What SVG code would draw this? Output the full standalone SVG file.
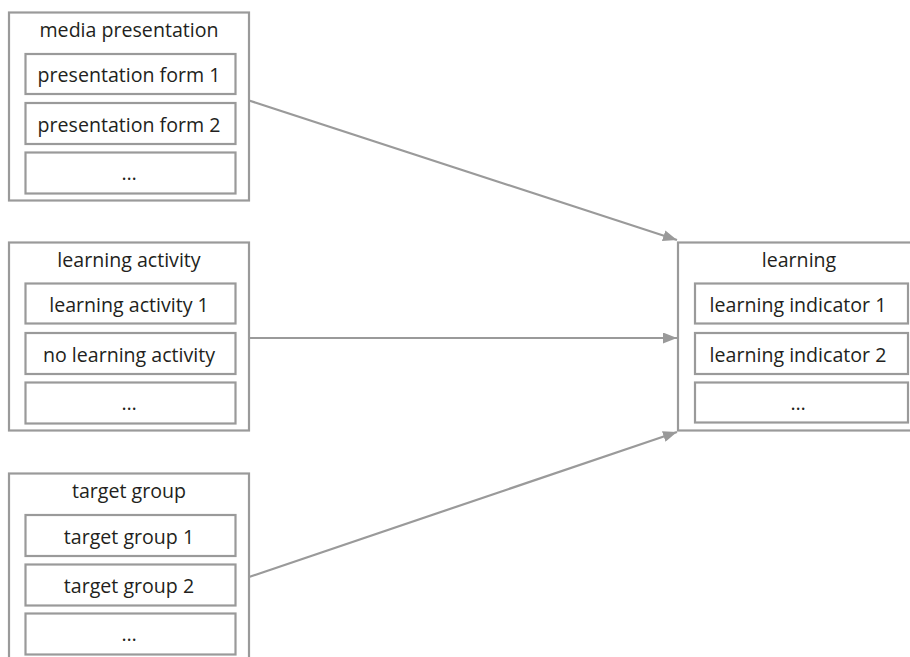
<svg xmlns="http://www.w3.org/2000/svg" width="910" height="657" viewBox="0 0 910 657">
<defs>
<style>
.o{fill:#fff;stroke:#9a9a9a;stroke-width:2.2}
.i{fill:#fff;stroke:#9a9a9a;stroke-width:2.2}
text{font-family:"Open Sans","Noto Sans",sans-serif;font-size:19.6px;fill:#231f20;text-anchor:middle}
.c{stroke:#9a9a9a;stroke-width:2.2;fill:none}
</style>
<marker id="ah" viewBox="0 0 14 11" refX="14" refY="5.5" markerWidth="14" markerHeight="11" markerUnits="userSpaceOnUse" orient="auto">
<path d="M0,0 L14,5.5 L0,11 Z" fill="#9a9a9a"/>
</marker>
</defs>
<rect width="910" height="657" fill="#fff"/>
<g id="media">
<rect class="o" x="9" y="12.5" width="240" height="188"/>
<text x="129" y="37">media presentation</text>
<rect class="i" x="25.5" y="54" width="210" height="40"/>
<text x="129" y="82">presentation form 1</text>
<rect class="i" x="25.5" y="103" width="210" height="41"/>
<text x="129" y="131.5">presentation form 2</text>
<rect class="i" x="25.5" y="152.5" width="210" height="41"/>
<text x="129" y="180">…</text>
</g>
<g id="activity">
<rect class="o" x="9" y="242.5" width="240" height="188"/>
<text x="129" y="266.5">learning activity</text>
<rect class="i" x="25.5" y="283.5" width="210" height="40"/>
<text x="129" y="311.5">learning activity 1</text>
<rect class="i" x="25.5" y="333" width="210" height="41"/>
<text x="129" y="361.5">no learning activity</text>
<rect class="i" x="25.5" y="382.5" width="210" height="41"/>
<text x="129" y="410">…</text>
</g>
<g id="target">
<rect class="o" x="9" y="473.5" width="240" height="200"/>
<text x="129" y="497.5">target group</text>
<rect class="i" x="25.5" y="515" width="210" height="41"/>
<text x="129" y="543.5">target group 1</text>
<rect class="i" x="25.5" y="564.5" width="210" height="41"/>
<text x="129" y="593">target group 2</text>
<rect class="i" x="25.5" y="613.5" width="210" height="41"/>
<text x="129" y="641">…</text>
</g>
<g id="learning">
<rect class="o" x="678" y="242.5" width="250" height="188"/>
<text x="799" y="266.5">learning</text>
<rect class="i" x="695" y="283.5" width="213" height="40"/>
<text x="798" y="311.5">learning indicator 1</text>
<rect class="i" x="695" y="333" width="213" height="41"/>
<text x="798" y="361.5">learning indicator 2</text>
<rect class="i" x="695" y="382.5" width="213" height="40"/>
<text x="798" y="410">…</text>
</g>
<g id="connectors">
<line class="c" x1="249" y1="100.5" x2="677" y2="240" marker-end="url(#ah)"/>
<line class="c" x1="249" y1="338" x2="677" y2="338" marker-end="url(#ah)"/>
<line class="c" x1="249" y1="577" x2="677" y2="432" marker-end="url(#ah)"/>
</g>
</svg>
